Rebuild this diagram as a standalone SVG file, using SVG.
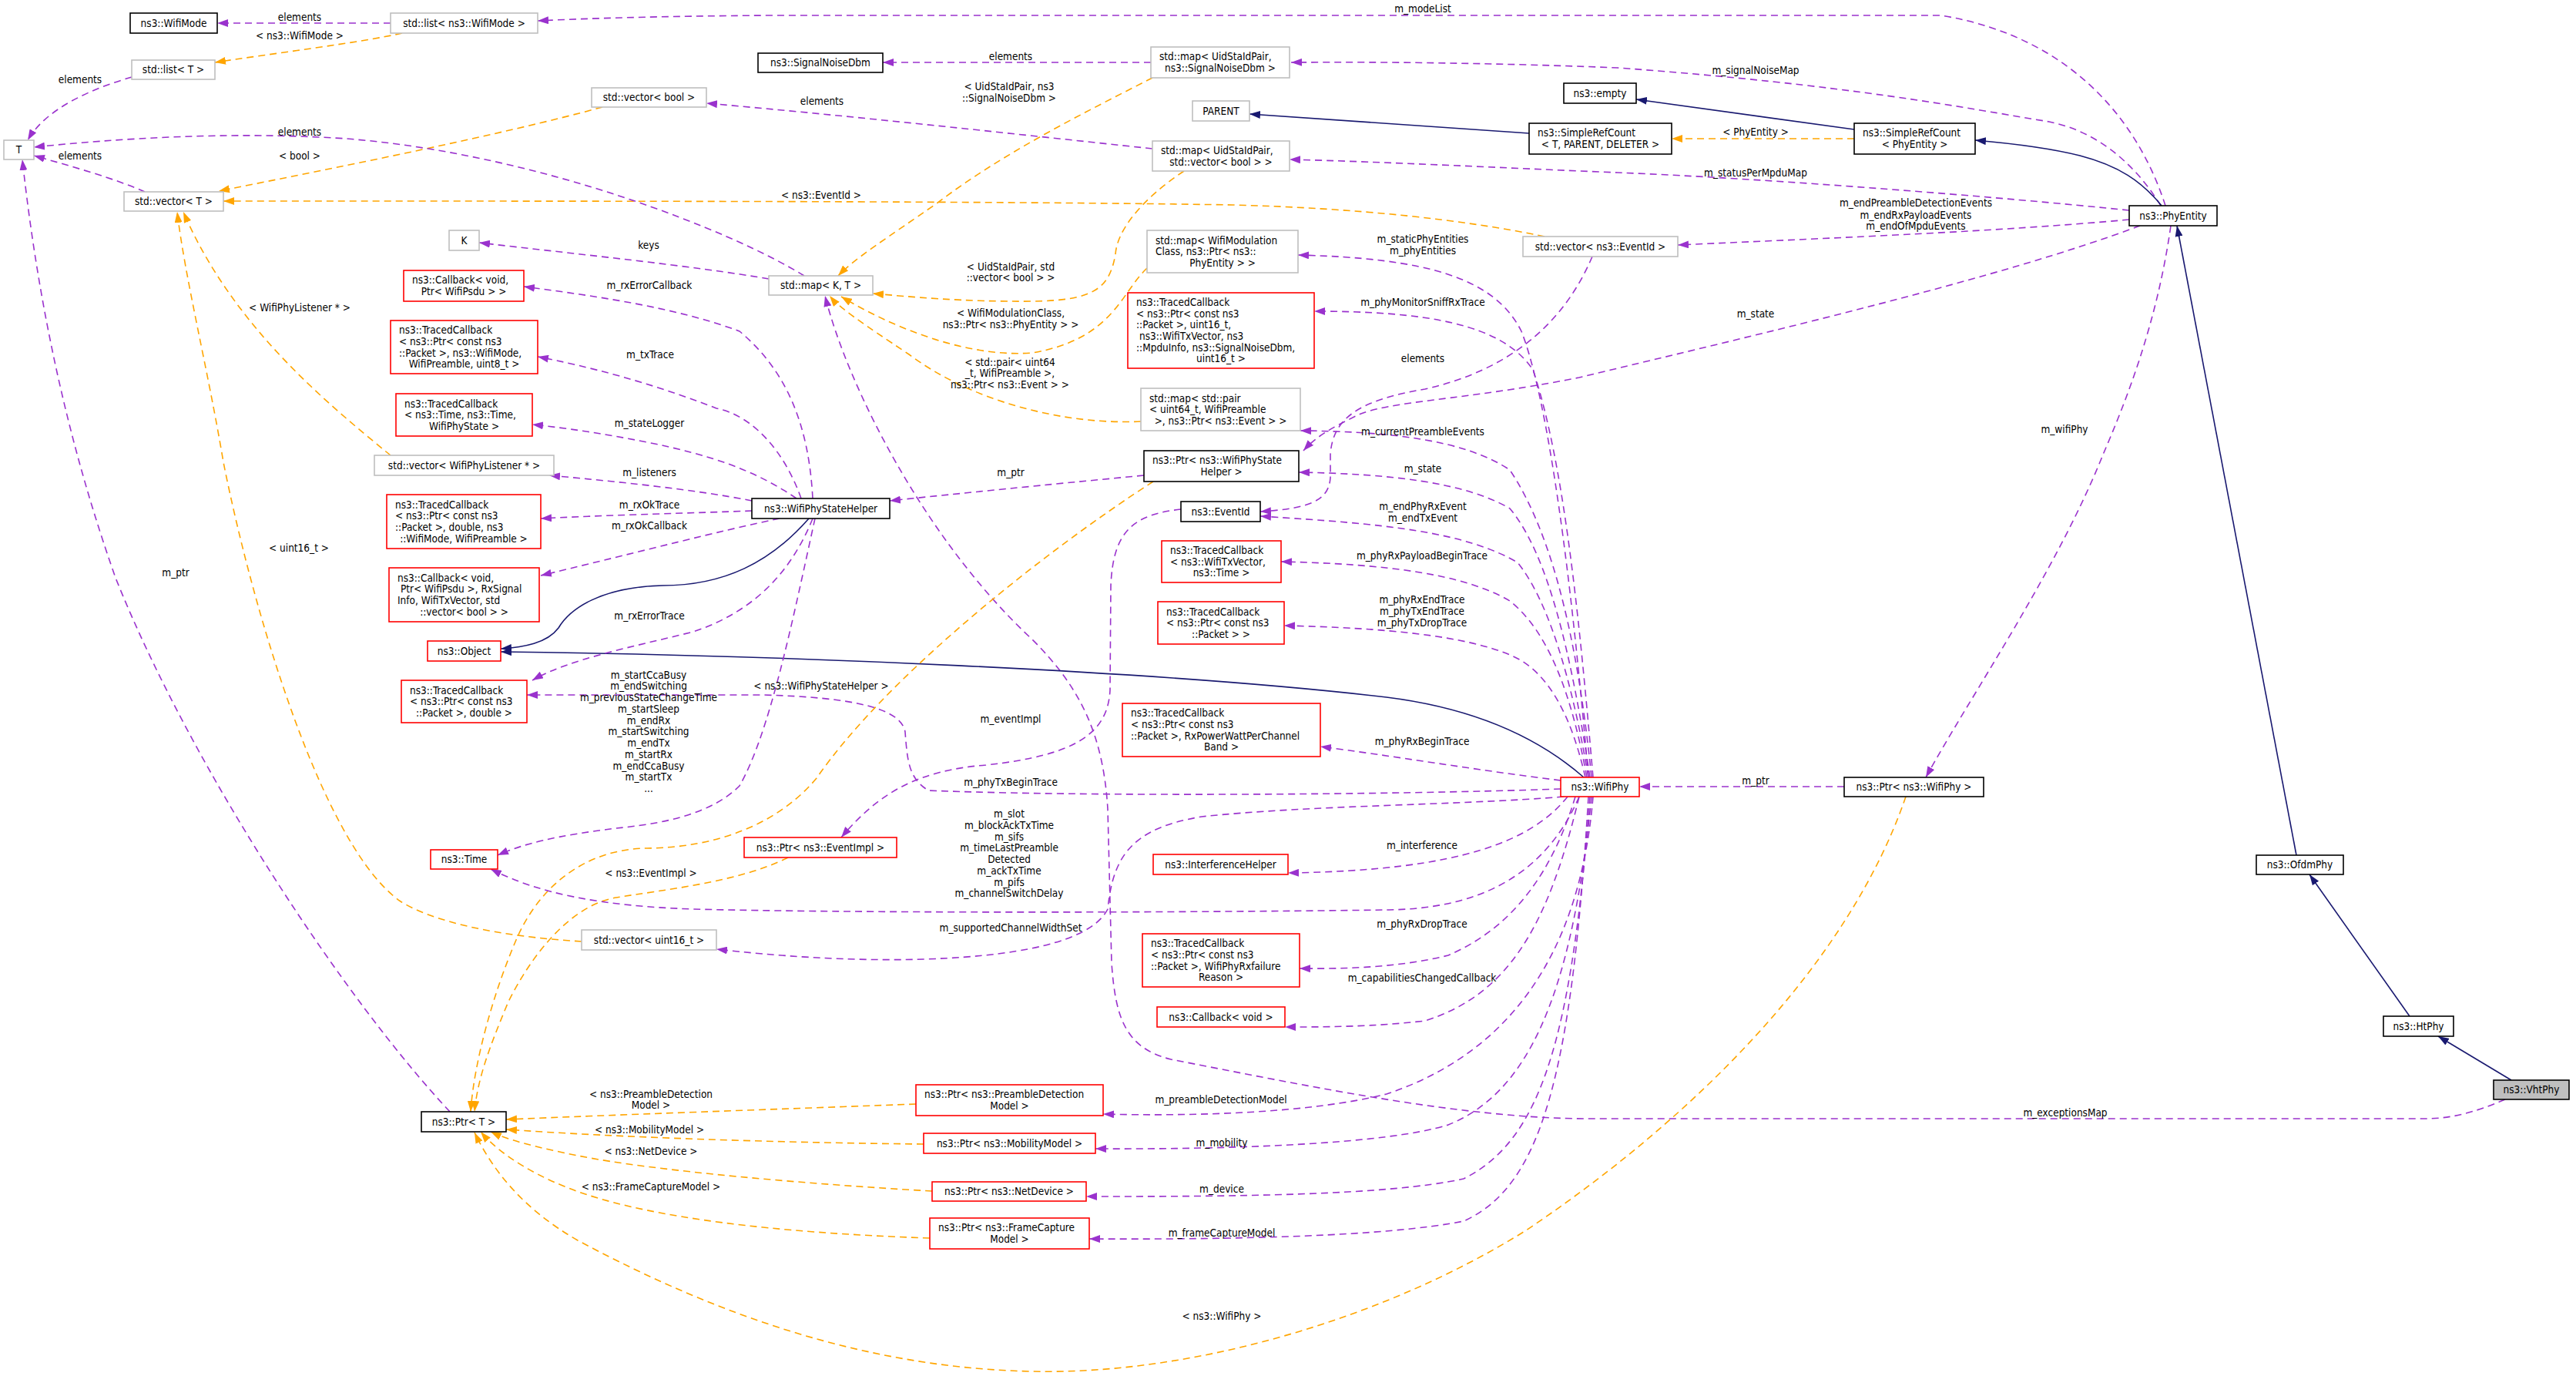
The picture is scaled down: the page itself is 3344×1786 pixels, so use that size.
<svg xmlns="http://www.w3.org/2000/svg" width="3344" height="1786" viewBox="0 0 3344 1786">
<style>
.t{font-family:'DejaVu Sans Condensed','DejaVu Sans',sans-serif;font-stretch:condensed;font-size:13.5px;fill:#000}
.c{text-anchor:middle}
.p{fill:none;stroke:#9a32cd;stroke-width:1.6;stroke-dasharray:9,6;marker-end:url(#mp)}
.o{fill:none;stroke:#ffa500;stroke-width:1.6;stroke-dasharray:9,6;marker-end:url(#mo)}
.n{fill:none;stroke:#191970;stroke-width:1.6;marker-end:url(#mn)}
.k{fill:#fff;stroke:#000;stroke-width:1.6}
.g{fill:#fff;stroke:#bfbfbf;stroke-width:1.6}
.r{fill:#fff;stroke:#ff0000;stroke-width:1.6}
.s{fill:#bfbfbf;stroke:#000;stroke-width:1.6}
</style>
<defs>
<marker id="mp" viewBox="0 0 14 10" refX="14" refY="5" markerWidth="14" markerHeight="10" markerUnits="userSpaceOnUse" orient="auto"><path d="M0,0 L14,5 L0,10 z" fill="#9a32cd"/></marker>
<marker id="mo" viewBox="0 0 14 10" refX="14" refY="5" markerWidth="14" markerHeight="10" markerUnits="userSpaceOnUse" orient="auto"><path d="M0,0 L14,5 L0,10 z" fill="#ffa500"/></marker>
<marker id="mn" viewBox="0 0 14 10" refX="14" refY="5" markerWidth="14" markerHeight="10" markerUnits="userSpaceOnUse" orient="auto"><path d="M0,0 L14,5 L0,10 z" fill="#191970"/></marker>
</defs>
<rect width="3344" height="1786" fill="#fff"/>
<g id="connectors">
<path class="p" d="M507,30 L282,30"/>
<path class="o" d="M522,43 C470,55 350,70 279,81"/>
<path class="p" d="M171,100 C120,115 60,140 36,182"/>
<path class="p" d="M188,249 C150,232 90,215 44,202"/>
<path class="o" d="M782,139 C650,175 450,215 284,248"/>
<path class="o" d="M2005,307 C1900,285 1760,270 1600,266 C1300,261 800,261 290,261"/>
<path class="o" d="M507,591 C420,520 300,420 238,275"/>
<path class="o" d="M755,1222 C640,1215 560,1195 520,1170 C420,1100 330,800 290,600 C270,480 240,360 230,275"/>
<path class="p" d="M584,1443 C450,1300 250,1000 150,750 C90,580 50,400 29,207"/>
<path class="p" d="M1044,358 C950,300 700,200 450,180 C300,170 150,180 44,191"/>
<path class="p" d="M998,362 C900,345 750,330 622,315"/>
<path class="p" d="M1494,81 L1146,81"/>
<path class="o" d="M1496,101 C1400,150 1300,200 1216,264 C1150,310 1110,335 1088,358"/>
<path class="p" d="M1496,193 C1300,172 1100,150 917,134"/>
<path class="o" d="M1537,222 C1480,260 1450,300 1448,330 C1440,375 1420,390 1340,391 C1250,392 1180,385 1133,381"/>
<path class="o" d="M1489,348 C1455,380 1445,440 1340,458 C1250,465 1150,420 1092,385"/>
<path class="o" d="M1481,547 C1380,552 1260,520 1180,460 C1120,420 1090,400 1077,384"/>
<path class="p" d="M3252,1427 C3210,1445 3180,1452 3148,1452 L2062,1452 C1900,1452 1700,1410 1520,1375 C1460,1360 1448,1320 1443,1250 L1438,1050 C1432,950 1400,890 1340,830 C1200,700 1100,500 1071,384"/>
<path class="p" d="M2067,333 C2030,420 1960,480 1850,505 C1760,520 1730,545 1727,590 L1727,620 C1725,650 1700,660 1636,664"/>
<path class="p" d="M2778,293 C2600,360 2300,430 2050,490 C1900,520 1800,520 1760,540 C1730,555 1710,565 1692,585"/>
<path class="p" d="M2811,267 C2780,170 2700,50 2520,20 L1000,20 C850,21 760,24 698,27"/>
<path class="p" d="M2805,267 C2770,210 2720,170 2660,158 C2550,140 2400,110 2100,88 C1950,82 1800,80 1676,81"/>
<path class="p" d="M2764,273 C2600,256 2300,232 2100,224 C1950,218 1800,210 1674,207"/>
<path class="p" d="M2764,285 C2600,300 2400,308 2178,318"/>
<path class="p" d="M2818,293 C2800,420 2760,520 2730,590 C2670,740 2560,900 2500,1009"/>
<path class="n" d="M2806,267 C2780,235 2750,215 2700,202 C2660,192 2610,186 2564,182"/>
<path class="o" d="M2407,180 L2170,180"/>
<path class="n" d="M2407,168 L2124,129"/>
<path class="n" d="M1985,173 L1622,148"/>
<path class="n" d="M2981,1110 L2826,293"/>
<path class="n" d="M3128,1319 L2998,1135"/>
<path class="n" d="M3260,1402 L3165,1345"/>
<path class="p" d="M2394,1021 L2128,1021"/>
<path class="o" d="M2474,1034 C2400,1250 2200,1450 1981,1597 C1800,1710 1550,1785 1339,1780 C1100,1775 900,1690 750,1610 C680,1570 640,1520 616,1470"/>
<path class="p" d="M2062,1009 C2040,750 2010,520 1975,430 C1940,360 1850,335 1685,331"/>
<path class="p" d="M2068,1009 C2050,800 2030,600 1990,480 C1950,420 1850,404 1706,404"/>
<path class="p" d="M2066,1009 C2050,850 2020,700 1960,610 C1900,570 1800,560 1688,559"/>
<path class="p" d="M2064,1009 C2040,850 2010,720 1960,660 C1900,625 1800,615 1686,613"/>
<path class="p" d="M2062,1009 C2040,880 2010,780 1970,730 C1900,690 1800,680 1636,670"/>
<path class="p" d="M2060,1009 C2040,900 2010,820 1960,780 C1900,745 1800,732 1663,729"/>
<path class="p" d="M2058,1009 C2040,930 2010,870 1960,850 C1900,825 1800,815 1667,812"/>
<path class="n" d="M2056,1009 C2000,960 1920,920 1800,905 C1500,870 1000,850 650,846"/>
<path class="n" d="M1050,673 C1000,730 940,760 860,760 C780,762 740,790 725,815 C710,835 680,840 650,842"/>
<path class="p" d="M2026,1013 C1920,1000 1800,980 1714,969"/>
<path class="p" d="M2026,1024 C1800,1032 1400,1034 1205,1026 C1180,1010 1178,990 1175,950 C1170,920 1110,905 990,902 L684,902"/>
<path class="p" d="M1533,661 C1470,668 1445,690 1442,760 L1441,896 C1438,950 1400,980 1280,993 C1190,1000 1140,1030 1092,1087"/>
<path class="o" d="M1023,1113 C960,1145 860,1155 800,1165 C740,1175 690,1240 660,1300 C635,1360 620,1400 616,1443"/>
<path class="o" d="M1497,625 C1350,720 1150,880 1060,1010 C1010,1070 930,1100 840,1101 C760,1102 700,1150 670,1220 C640,1290 615,1380 611,1443"/>
<path class="p" d="M1485,617 C1350,630 1250,640 1155,650"/>
<path class="p" d="M2030,1034 C1900,1045 1700,1045 1560,1060 C1470,1075 1445,1110 1438,1180 C1420,1215 1350,1240 1200,1245 C1100,1248 1000,1240 930,1232"/>
<path class="p" d="M2050,1034 C2000,1150 1900,1180 1800,1181 C1500,1185 1100,1185 900,1180 C780,1176 700,1160 637,1128"/>
<path class="p" d="M1058,673 C1030,800 1000,950 960,1020 C920,1060 850,1070 800,1075 C720,1085 680,1095 646,1110"/>
<path class="p" d="M1055,673 C1020,760 960,800 900,820 C820,840 740,855 691,883"/>
<path class="p" d="M1012,673 C930,690 840,714 702,747"/>
<path class="p" d="M976,663 C900,666 800,668 702,673"/>
<path class="p" d="M976,650 C900,635 800,625 713,617"/>
<path class="p" d="M1034,647 C980,610 920,590 840,574 C780,562 730,555 691,551"/>
<path class="p" d="M1040,647 C1020,590 980,540 930,530 C840,495 760,475 698,463"/>
<path class="p" d="M1055,647 C1050,550 1020,480 960,430 C880,400 780,385 680,372"/>
<path class="p" d="M2035,1034 C1990,1090 1900,1130 1672,1133"/>
<path class="p" d="M2045,1034 C2010,1150 1950,1210 1880,1240 C1820,1255 1750,1258 1687,1257"/>
<path class="p" d="M2050,1034 C2010,1200 1960,1290 1850,1325 C1780,1333 1720,1333 1668,1333"/>
<path class="p" d="M2068,1034 C2050,1250 1950,1370 1800,1420 C1700,1445 1550,1449 1432,1446"/>
<path class="p" d="M2066,1034 C2040,1300 1980,1420 1880,1460 C1800,1485 1600,1492 1422,1491"/>
<path class="p" d="M2064,1034 C2040,1350 2000,1480 1900,1530 C1800,1552 1600,1553 1410,1553"/>
<path class="p" d="M2062,1034 C2040,1400 2000,1540 1900,1585 C1800,1605 1600,1609 1414,1608"/>
<path class="o" d="M1189,1433 C1000,1440 800,1447 657,1453"/>
<path class="o" d="M1199,1485 C1000,1483 800,1476 657,1466"/>
<path class="o" d="M1210,1546 C1050,1537 850,1520 750,1500 C700,1490 660,1480 637,1469"/>
<path class="o" d="M1207,1607 C1000,1600 850,1580 760,1550 C700,1530 650,1500 624,1469"/>
<g class="t c">
<text x="389" y="27">elements</text>
<text x="389" y="51">&lt; ns3::WifiMode &gt;</text>
<text x="104" y="108">elements</text>
<text x="104" y="207">elements</text>
<text x="389" y="176">elements</text>
<text x="389" y="207">&lt; bool &gt;</text>
<text x="1066" y="258">&lt; ns3::EventId &gt;</text>
<text x="389" y="404">&lt; WifiPhyListener * &gt;</text>
<text x="388" y="716">&lt; uint16_t &gt;</text>
<text x="228" y="748">m_ptr</text>
<text x="842" y="323">keys</text>
<text x="1312" y="78">elements</text>
<text x="1310" y="117">&lt; UidStaIdPair, ns3</text>
<text x="1310" y="132">::SignalNoiseDbm &gt;</text>
<text x="1067" y="136">elements</text>
<text x="1312" y="351">&lt; UidStaIdPair, std</text>
<text x="1312" y="365">::vector&lt; bool &gt; &gt;</text>
<text x="1312" y="411">&lt; WifiModulationClass,</text>
<text x="1312" y="426">ns3::Ptr&lt; ns3::PhyEntity &gt; &gt;</text>
<text x="1311" y="475">&lt; std::pair&lt; uint64</text>
<text x="1311" y="489">_t, WifiPreamble &gt;,</text>
<text x="1311" y="504">ns3::Ptr&lt; ns3::Event &gt; &gt;</text>
<text x="2681" y="1449">m_exceptionsMap</text>
<text x="1847" y="470">elements</text>
<text x="2279" y="412">m_state</text>
<text x="1847" y="16">m_modeList</text>
<text x="2279" y="96">m_signalNoiseMap</text>
<text x="2279" y="229">m_statusPerMpduMap</text>
<text x="2487" y="268">m_endPreambleDetectionEvents</text>
<text x="2487" y="284">m_endRxPayloadEvents</text>
<text x="2487" y="298">m_endOfMpduEvents</text>
<text x="2680" y="562">m_wifiPhy</text>
<text x="2279" y="176">&lt; PhyEntity &gt;</text>
<text x="2279" y="1018">m_ptr</text>
<text x="1586" y="1713">&lt; ns3::WifiPhy &gt;</text>
<text x="1847" y="315">m_staticPhyEntities</text>
<text x="1847" y="330">m_phyEntities</text>
<text x="1847" y="397">m_phyMonitorSniffRxTrace</text>
<text x="1847" y="565">m_currentPreambleEvents</text>
<text x="1847" y="613">m_state</text>
<text x="1847" y="662">m_endPhyRxEvent</text>
<text x="1847" y="677">m_endTxEvent</text>
<text x="1846" y="726">m_phyRxPayloadBeginTrace</text>
<text x="1846" y="783">m_phyRxEndTrace</text>
<text x="1846" y="798">m_phyTxEndTrace</text>
<text x="1846" y="813">m_phyTxDropTrace</text>
<text x="1846" y="967">m_phyRxBeginTrace</text>
<text x="1312" y="1020">m_phyTxBeginTrace</text>
<text x="1312" y="938">m_eventImpl</text>
<text x="845" y="1138">&lt; ns3::EventImpl &gt;</text>
<text x="1066" y="895">&lt; ns3::WifiPhyStateHelper &gt;</text>
<text x="1312" y="618">m_ptr</text>
<text x="1312" y="1209">m_supportedChannelWidthSet</text>
<text x="1310" y="1061">m_slot</text>
<text x="1310" y="1076">m_blockAckTxTime</text>
<text x="1310" y="1091">m_sifs</text>
<text x="1310" y="1105">m_timeLastPreamble</text>
<text x="1310" y="1120">Detected</text>
<text x="1310" y="1135">m_ackTxTime</text>
<text x="1310" y="1150">m_pifs</text>
<text x="1310" y="1164">m_channelSwitchDelay</text>
<text x="842" y="881">m_startCcaBusy</text>
<text x="842" y="895">m_endSwitching</text>
<text x="842" y="910">m_previousStateChangeTime</text>
<text x="842" y="925">m_startSleep</text>
<text x="842" y="940">m_endRx</text>
<text x="842" y="954">m_startSwitching</text>
<text x="842" y="969">m_endTx</text>
<text x="842" y="984">m_startRx</text>
<text x="842" y="999">m_endCcaBusy</text>
<text x="842" y="1013">m_startTx</text>
<text x="842" y="1028">...</text>
<text x="843" y="804">m_rxErrorTrace</text>
<text x="843" y="687">m_rxOkCallback</text>
<text x="843" y="660">m_rxOkTrace</text>
<text x="843" y="618">m_listeners</text>
<text x="843" y="554">m_stateLogger</text>
<text x="844" y="465">m_txTrace</text>
<text x="843" y="375">m_rxErrorCallback</text>
<text x="1846" y="1102">m_interference</text>
<text x="1846" y="1204">m_phyRxDropTrace</text>
<text x="1846" y="1274">m_capabilitiesChangedCallback</text>
<text x="1585" y="1432">m_preambleDetectionModel</text>
<text x="1586" y="1488">m_mobility</text>
<text x="1586" y="1548">m_device</text>
<text x="1586" y="1605">m_frameCaptureModel</text>
<text x="845" y="1425">&lt; ns3::PreambleDetection</text>
<text x="845" y="1439">Model &gt;</text>
<text x="843" y="1471">&lt; ns3::MobilityModel &gt;</text>
<text x="845" y="1499">&lt; ns3::NetDevice &gt;</text>
<text x="845" y="1545">&lt; ns3::FrameCaptureModel &gt;</text>
</g>
</g>
<g id="n1"><rect class="k" x="169" y="17" width="113" height="26"/><text class="t c" x="225.5" y="34.7">ns3::WifiMode</text></g>
<g id="n2"><rect class="g" x="507" y="17" width="191" height="26"/><text class="t c" x="602.5" y="34.7">std::list&lt; ns3::WifiMode &gt;</text></g>
<g id="n3"><rect class="g" x="171" y="78" width="108" height="25"/><text class="t c" x="225" y="95.2">std::list&lt; T &gt;</text></g>
<g id="n4"><rect class="g" x="5" y="182" width="39" height="25"/><text class="t c" x="24.5" y="199.2">T</text></g>
<g id="n5"><rect class="g" x="161" y="249" width="129" height="25"/><text class="t c" x="225.5" y="266.2">std::vector&lt; T &gt;</text></g>
<g id="n6"><rect class="g" x="768" y="114" width="149" height="25"/><text class="t c" x="842.5" y="131.2">std::vector&lt; bool &gt;</text></g>
<g id="n7"><rect class="g" x="583" y="299" width="39" height="26"/><text class="t c" x="602.5" y="316.7">K</text></g>
<g id="n8"><rect class="r" x="524" y="351" width="156" height="40"/><text class="t" x="535" y="368.4">ns3::Callback&lt; void,</text><text class="t c" x="602" y="383">Ptr&lt; WifiPsdu &gt; &gt;</text></g>
<g id="n9"><rect class="r" x="507" y="416" width="191" height="69"/><text class="t" x="518" y="433.3">ns3::TracedCallback</text><text class="t" x="518" y="447.9">&lt; ns3::Ptr&lt; const ns3</text><text class="t" x="518" y="462.5">::Packet &gt;, ns3::WifiMode,</text><text class="t c" x="602.5" y="477.1">WifiPreamble, uint8_t &gt;</text></g>
<g id="n10"><rect class="r" x="514" y="511" width="177" height="55"/><text class="t" x="525" y="528.6">ns3::TracedCallback</text><text class="t" x="525" y="543.2">&lt; ns3::Time, ns3::Time,</text><text class="t c" x="602.5" y="557.8">WifiPhyState &gt;</text></g>
<g id="n11"><rect class="g" x="486" y="591" width="233" height="26"/><text class="t c" x="602.5" y="608.7">std::vector&lt; WifiPhyListener * &gt;</text></g>
<g id="n12"><rect class="r" x="502" y="642" width="200" height="70"/><text class="t" x="513" y="659.8">ns3::TracedCallback</text><text class="t" x="513" y="674.4">&lt; ns3::Ptr&lt; const ns3</text><text class="t" x="513" y="689">::Packet &gt;, double, ns3</text><text class="t c" x="602" y="703.6">::WifiMode, WifiPreamble &gt;</text></g>
<g id="n13"><rect class="r" x="505" y="737" width="195" height="70"/><text class="t" x="516" y="754.8">ns3::Callback&lt; void,</text><text class="t" x="520" y="769.4">Ptr&lt; WifiPsdu &gt;, RxSignal</text><text class="t" x="516" y="784">Info, WifiTxVector, std</text><text class="t c" x="602.5" y="798.6">::vector&lt; bool &gt; &gt;</text></g>
<g id="n14"><rect class="r" x="555" y="832" width="95" height="26"/><text class="t c" x="602.5" y="849.7">ns3::Object</text></g>
<g id="n15"><rect class="r" x="521" y="883" width="163" height="55"/><text class="t" x="532" y="900.6">ns3::TracedCallback</text><text class="t" x="532" y="915.2">&lt; ns3::Ptr&lt; const ns3</text><text class="t c" x="602.5" y="929.8">::Packet &gt;, double &gt;</text></g>
<g id="n16"><rect class="r" x="559" y="1103" width="87" height="25"/><text class="t c" x="602.5" y="1120.2">ns3::Time</text></g>
<g id="n17"><rect class="k" x="547" y="1443" width="110" height="26"/><text class="t c" x="602" y="1460.7">ns3::Ptr&lt; T &gt;</text></g>
<g id="n18"><rect class="g" x="755" y="1207" width="175" height="26"/><text class="t c" x="842.5" y="1224.7">std::vector&lt; uint16_t &gt;</text></g>
<g id="n19"><rect class="k" x="984" y="69" width="162" height="25"/><text class="t c" x="1065" y="86.2">ns3::SignalNoiseDbm</text></g>
<g id="n20"><rect class="g" x="1494" y="61" width="180" height="40"/><text class="t" x="1505" y="78.4">std::map&lt; UidStaIdPair,</text><text class="t c" x="1584" y="93">ns3::SignalNoiseDbm &gt;</text></g>
<g id="n21"><rect class="g" x="1548" y="131" width="74" height="26"/><text class="t c" x="1585" y="148.7">PARENT</text></g>
<g id="n22"><rect class="g" x="1496" y="183" width="178" height="39"/><text class="t" x="1507" y="199.9">std::map&lt; UidStaIdPair,</text><text class="t c" x="1585" y="214.5">std::vector&lt; bool &gt; &gt;</text></g>
<g id="n23"><rect class="g" x="998" y="358" width="135" height="25"/><text class="t c" x="1065.5" y="375.2">std::map&lt; K, T &gt;</text></g>
<g id="n24"><rect class="g" x="1489" y="299" width="196" height="55"/><text class="t" x="1500" y="316.6">std::map&lt; WifiModulation</text><text class="t" x="1500" y="331.2">Class, ns3::Ptr&lt; ns3::</text><text class="t c" x="1587" y="345.8">PhyEntity &gt; &gt;</text></g>
<g id="n25"><rect class="r" x="1464" y="380" width="242" height="98"/><text class="t" x="1475" y="397.2">ns3::TracedCallback</text><text class="t" x="1475" y="411.8">&lt; ns3::Ptr&lt; const ns3</text><text class="t" x="1475" y="426.4">::Packet &gt;, uint16_t,</text><text class="t" x="1479" y="441">ns3::WifiTxVector, ns3</text><text class="t" x="1475" y="455.6">::MpduInfo, ns3::SignalNoiseDbm,</text><text class="t c" x="1585" y="470.2">uint16_t &gt;</text></g>
<g id="n26"><rect class="g" x="1481" y="504" width="207" height="55"/><text class="t" x="1492" y="521.6">std::map&lt; std::pair</text><text class="t" x="1492" y="536.2">&lt; uint64_t, WifiPreamble</text><text class="t c" x="1584.5" y="550.8">&gt;, ns3::Ptr&lt; ns3::Event &gt; &gt;</text></g>
<g id="n27"><rect class="k" x="1485" y="585" width="201" height="40"/><text class="t" x="1496" y="602.4">ns3::Ptr&lt; ns3::WifiPhyState</text><text class="t c" x="1585.5" y="617">Helper &gt;</text></g>
<g id="n28"><rect class="k" x="976" y="647" width="179" height="26"/><text class="t c" x="1065.5" y="664.7">ns3::WifiPhyStateHelper</text></g>
<g id="n29"><rect class="k" x="1533" y="651" width="103" height="26"/><text class="t c" x="1584.5" y="668.7">ns3::EventId</text></g>
<g id="n30"><rect class="r" x="1508" y="702" width="155" height="54"/><text class="t" x="1519" y="719.1">ns3::TracedCallback</text><text class="t" x="1519" y="733.7">&lt; ns3::WifiTxVector,</text><text class="t c" x="1585.5" y="748.3">ns3::Time &gt;</text></g>
<g id="n31"><rect class="r" x="1503" y="781" width="164" height="55"/><text class="t" x="1514" y="798.6">ns3::TracedCallback</text><text class="t" x="1514" y="813.2">&lt; ns3::Ptr&lt; const ns3</text><text class="t c" x="1585" y="827.8">::Packet &gt; &gt;</text></g>
<g id="n32"><rect class="r" x="1457" y="913" width="257" height="69"/><text class="t" x="1468" y="930.3">ns3::TracedCallback</text><text class="t" x="1468" y="944.9">&lt; ns3::Ptr&lt; const ns3</text><text class="t" x="1468" y="959.5">::Packet &gt;, RxPowerWattPerChannel</text><text class="t c" x="1585.5" y="974.1">Band &gt;</text></g>
<g id="n33"><rect class="r" x="966" y="1087" width="198" height="26"/><text class="t c" x="1065" y="1104.7">ns3::Ptr&lt; ns3::EventImpl &gt;</text></g>
<g id="n34"><rect class="r" x="1497" y="1109" width="175" height="26"/><text class="t c" x="1584.5" y="1126.7">ns3::InterferenceHelper</text></g>
<g id="n35"><rect class="r" x="2026" y="1009" width="102" height="25"/><text class="t c" x="2077" y="1026.2">ns3::WifiPhy</text></g>
<g id="n36"><rect class="k" x="2394" y="1009" width="181" height="25"/><text class="t c" x="2484.5" y="1026.2">ns3::Ptr&lt; ns3::WifiPhy &gt;</text></g>
<g id="n37"><rect class="k" x="2030" y="108" width="94" height="26"/><text class="t c" x="2077" y="125.7">ns3::empty</text></g>
<g id="n38"><rect class="k" x="1985" y="160" width="185" height="40"/><text class="t" x="1996" y="177.4">ns3::SimpleRefCount</text><text class="t c" x="2077.5" y="192">&lt; T, PARENT, DELETER &gt;</text></g>
<g id="n39"><rect class="k" x="2407" y="160" width="157" height="40"/><text class="t" x="2418" y="177.4">ns3::SimpleRefCount</text><text class="t c" x="2485.5" y="192">&lt; PhyEntity &gt;</text></g>
<g id="n40"><rect class="g" x="1977" y="307" width="201" height="26"/><text class="t c" x="2077.5" y="324.7">std::vector&lt; ns3::EventId &gt;</text></g>
<g id="n41"><rect class="k" x="2764" y="267" width="114" height="26"/><text class="t c" x="2821" y="284.7">ns3::PhyEntity</text></g>
<g id="n42"><rect class="k" x="2929" y="1110" width="113" height="25"/><text class="t c" x="2985.5" y="1127.2">ns3::OfdmPhy</text></g>
<g id="n43"><rect class="k" x="3094" y="1319" width="91" height="26"/><text class="t c" x="3139.5" y="1336.7">ns3::HtPhy</text></g>
<g id="n44"><rect class="s" x="3237" y="1402" width="98" height="25"/><text class="t c" x="3286" y="1419.2">ns3::VhtPhy</text></g>
<g id="n45"><rect class="r" x="1483" y="1212" width="204" height="69"/><text class="t" x="1494" y="1229.3">ns3::TracedCallback</text><text class="t" x="1494" y="1243.9">&lt; ns3::Ptr&lt; const ns3</text><text class="t" x="1494" y="1258.5">::Packet &gt;, WifiPhyRxfailure</text><text class="t c" x="1585" y="1273.1">Reason &gt;</text></g>
<g id="n46"><rect class="r" x="1502" y="1307" width="166" height="26"/><text class="t c" x="1585" y="1324.7">ns3::Callback&lt; void &gt;</text></g>
<g id="n47"><rect class="r" x="1189" y="1408" width="243" height="40"/><text class="t" x="1200" y="1425.4">ns3::Ptr&lt; ns3::PreambleDetection</text><text class="t c" x="1310.5" y="1440">Model &gt;</text></g>
<g id="n48"><rect class="r" x="1199" y="1471" width="223" height="26"/><text class="t c" x="1310.5" y="1488.7">ns3::Ptr&lt; ns3::MobilityModel &gt;</text></g>
<g id="n49"><rect class="r" x="1210" y="1534" width="200" height="25"/><text class="t c" x="1310" y="1551.2">ns3::Ptr&lt; ns3::NetDevice &gt;</text></g>
<g id="n50"><rect class="r" x="1207" y="1581" width="207" height="40"/><text class="t" x="1218" y="1598.4">ns3::Ptr&lt; ns3::FrameCapture</text><text class="t c" x="1310.5" y="1613">Model &gt;</text></g>
</svg>
